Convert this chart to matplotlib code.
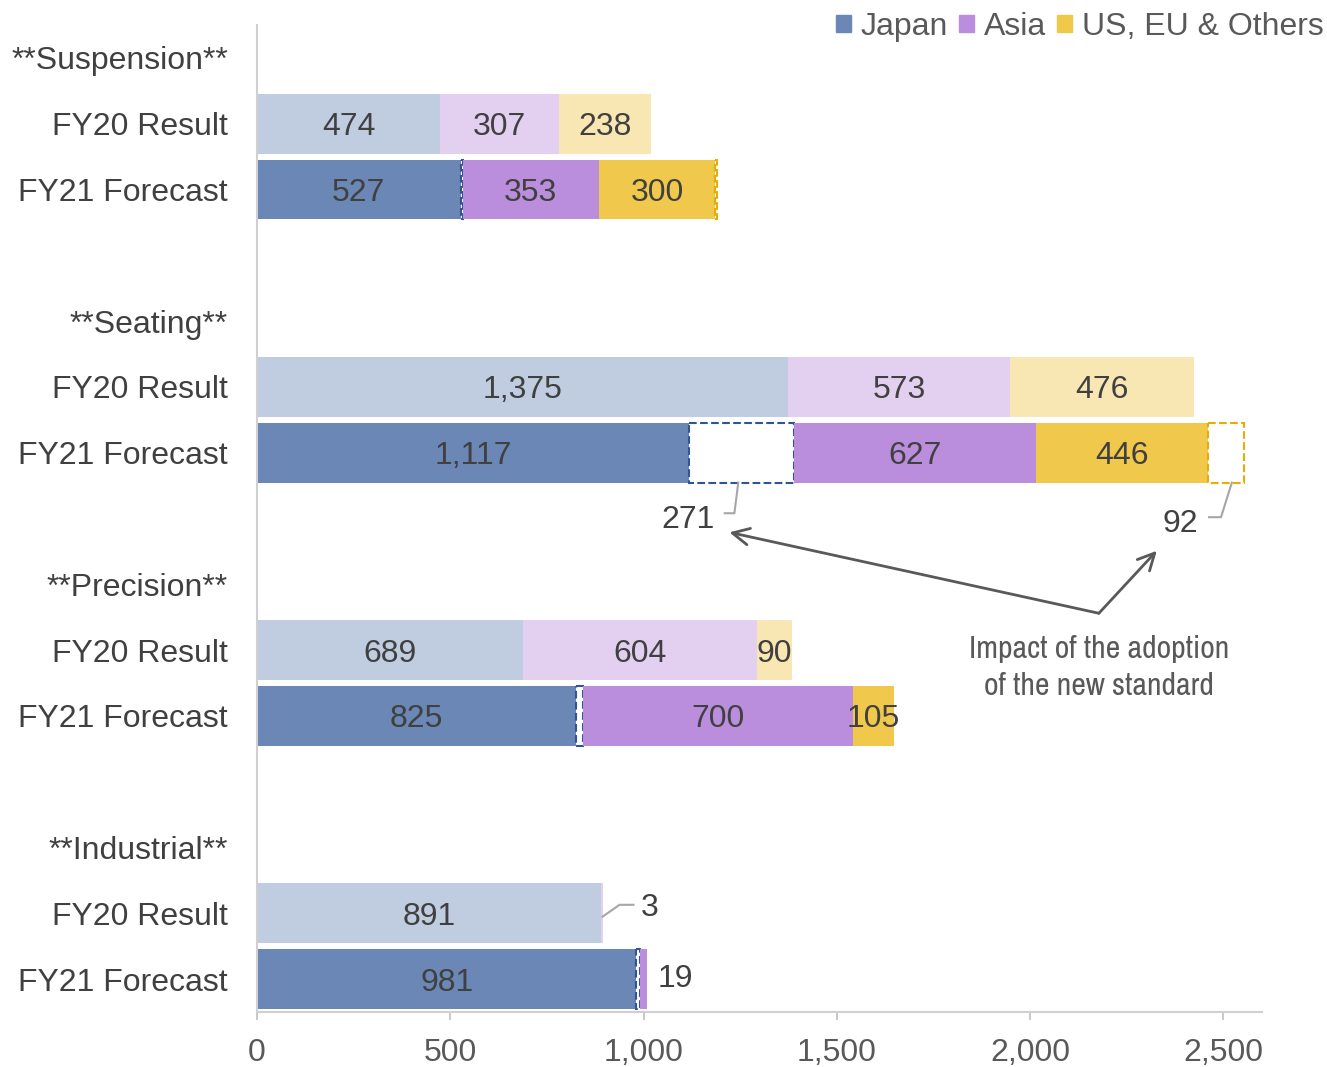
import numpy as np
import matplotlib.pyplot as plt
from matplotlib.patches import Patch
from matplotlib import font_manager

plt.rcParams['font.family'] = ['Liberation Sans', 'DejaVu Sans']

# rows, top to bottom
row_labels = ['**Suspension**', 'FY20 Result', 'FY21 Forecast', '',
              '**Seating**', 'FY20 Result', 'FY21 Forecast', '',
              '**Precision**', 'FY20 Result', 'FY21 Forecast', '',
              '**Industrial**', 'FY20 Result', 'FY21 Forecast']

# FY20 result rows
fy20_rows = [1, 5, 9, 13]
fy20_japan = [474, 1375, 689, 891]
fy20_asia = [307, 573, 604, 3]
fy20_us = [238, 476, 90, 0]

# FY21 forecast rows (impact of new standard shown as dashed boxes)
fy21_rows = [2, 6, 10, 14]
fy21_japan = [527, 1117, 825, 981]
fy21_japan_impact = [5, 271, 18, 9]
fy21_asia = [353, 627, 700, 19]
fy21_us = [300, 446, 105, 0]
fy21_us_impact = [6, 92, 0, 0]

c_japan, c_japan_l = '#6A87B5', '#C0CDE1'
c_asia, c_asia_l = '#BA8EDC', '#E3CFF0'
c_us, c_us_l = '#F0C84C', '#F8E7B2'
txt = '#404040'
grey = '#595959'

# look for a condensed face for the note, otherwise a smaller regular one
narrow = None
for f in font_manager.fontManager.ttflist:
    if 'Narrow' in f.name or 'Condensed' in f.name:
        narrow = f.name
        break

fig = plt.figure(figsize=(13.27, 10.67), dpi=100)
ax = fig.add_axes([0.1937, 0.0515, 0.951 - 0.1937, 0.9766 - 0.0515])
bh = 0.91
fs = 23

# FY20 bars
l1 = np.array(fy20_japan)
l2 = l1 + np.array(fy20_asia)
ax.barh(fy20_rows, fy20_japan, height=bh, color=c_japan_l)
ax.barh(fy20_rows, fy20_asia, left=l1, height=bh, color=c_asia_l)
ax.barh(fy20_rows, fy20_us, left=l2, height=bh, color=c_us_l)

# FY21 bars
j = np.array(fy21_japan)
ji = j + np.array(fy21_japan_impact)
a = ji + np.array(fy21_asia)
u = a + np.array(fy21_us)
ax.barh(fy21_rows, fy21_japan, height=bh, color=c_japan)
ax.barh(fy21_rows, fy21_japan_impact, left=j, height=bh, color='white',
        edgecolor='#2F5597', linestyle='--', linewidth=1.5)
ax.barh(fy21_rows, fy21_asia, left=ji, height=bh, color=c_asia)
ax.barh(fy21_rows, fy21_us, left=a, height=bh, color=c_us)
for r, v, lft in zip(fy21_rows, fy21_us_impact, u):
    if v > 0:
        ax.barh(r, v, left=lft, height=bh, color='white',
                edgecolor='#E6AE00', linestyle='--', linewidth=1.5)

# value labels inside segments
def seg_labels(rows, vals, lefts):
    for r, v, lft in zip(rows, vals, lefts):
        if v >= 90:
            ax.text(lft + v / 2, r, f'{v:,}', ha='center', va='center_baseline',
                    fontsize=fs, color=txt)

seg_labels(fy20_rows, fy20_japan, [0] * 4)
seg_labels(fy20_rows, fy20_asia, l1)
seg_labels(fy20_rows, fy20_us, l2)
seg_labels(fy21_rows, fy21_japan, [0] * 4)
seg_labels(fy21_rows, fy21_asia, ji)
seg_labels(fy21_rows, fy21_us, a)

# small callouts
lc = '#A6A6A6'
ax.text(1183, 6.97, '271', ha='right', va='center_baseline', fontsize=fs, color=txt)
ax.plot([1210, 1235, 1245], [6.92, 6.92, 6.455], color=lc, lw=1.5)
ax.text(2435, 7.03, '92', ha='right', va='center_baseline', fontsize=fs, color=txt)
ax.plot([2463, 2494, 2522], [6.98, 6.98, 6.455], color=lc, lw=1.5)
ax.text(993, 12.87, '3', ha='left', va='center_baseline', fontsize=fs, color=txt)
ax.plot([894, 938, 974], [13.05, 12.87, 12.87], color=lc, lw=1.5)
ax.text(1037, 13.95, '19', ha='left', va='center_baseline', fontsize=fs, color=txt)

# impact arrows
jx, jy = 2178, 8.44
for ex, ey in [(1222, 7.21), (2328, 7.49)]:
    ax.annotate('', xy=(ex, ey), xytext=(jx, jy),
                arrowprops=dict(arrowstyle='->', color=grey, lw=2,
                                mutation_scale=30, shrinkA=0, shrinkB=0))
if narrow:
    note_font = dict(family=[narrow, 'Liberation Sans'], fontsize=fs)
else:
    note_font = dict(family=['Liberation Sans'], fontsize=20)
ax.text(jx, 9.27, 'Impact of the adoption\nof the new standard', ha='center',
        va='center', color=grey, linespacing=1.4, **note_font)

# axes styling
ax.set_xlim(0, 2600)
ax.set_ylim(14.5, -0.5)
ax.set_yticks(range(len(row_labels)))
ax.set_yticklabels(row_labels, fontsize=fs, color=txt)
ax.set_xticks([0, 500, 1000, 1500, 2000, 2500])
ax.set_xticklabels(['0', '500', '1,000', '1,500', '2,000', '2,500'],
                   fontsize=fs, color=grey)
ax.tick_params(axis='y', length=0, pad=21)
ax.tick_params(axis='x', length=6, color='#BFBFBF', width=1.2, pad=13)
for s in ['top', 'right']:
    ax.spines[s].set_visible(False)
for s in ['left', 'bottom']:
    ax.spines[s].set_color('#D0D0D0')
    ax.spines[s].set_linewidth(1.5)

handles = [Patch(color=c_japan, label='Japan'), Patch(color=c_asia, label='Asia'),
           Patch(color=c_us, label='US, EU & Others')]
leg = fig.legend(handles=handles, loc='upper right', bbox_to_anchor=(1.019, 1.016),
                 ncol=3, frameon=False, fontsize=fs, handlelength=0.46,
                 handleheight=0.46, handletextpad=0.3, columnspacing=0.36)
for t in leg.get_texts():
    t.set_color(grey)

fig.savefig('out.png', dpi=100)
